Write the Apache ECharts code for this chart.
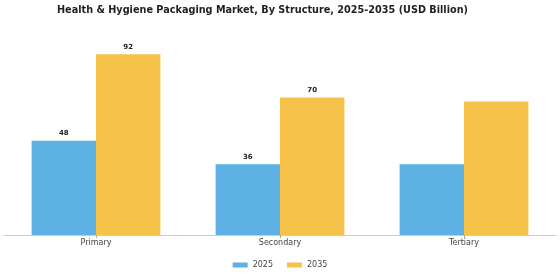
<!DOCTYPE html>
<html>
<head>
<meta charset="utf-8">
<script src="https://cdn.jsdelivr.net/npm/echarts@6/dist/echarts.min.js"></script>
<style>
  html, body { margin: 0; padding: 0; background: #fff; }
  #main { width: 560px; height: 280px; }
</style>
</head>
<body>
<div id="main"></div>
<script>
var categories = ['Primary', 'Secondary', 'Tertiary'];
var values2025 = [48, 36, 36];
var values2035 = [92, 70, 68];
// only these get value labels in the source picture
var labels2025 = ['48', '36', ''];
var labels2035 = ['92', '70', ''];

var chart = echarts.init(document.getElementById('main'));

var option = {
    backgroundColor: '#fff',
    textStyle: { fontFamily: 'DejaVu Sans' },
    title: {
        text: 'Health & Hygiene Packaging Market, By Structure, 2025-2035 (USD Billion)',
        left: 57,
        top: 5,
        padding: 0,
        textStyle: { fontSize: 9.7, fontWeight: 'bold', color: '#222', fontFamily: 'DejaVu Sans' }
    },
    legend: {
        bottom: 6,
        left: 'center',
        itemWidth: 15,
        itemHeight: 5,
        itemGap: 14,
        icon: 'rect',
        textStyle: { fontSize: 8, color: '#444' },
        data: ['2025', '2035']
    },
    grid: { left: 4, right: 4, top: 38.6, bottom: 45 },
    xAxis: {
        type: 'category',
        data: categories,
        axisLine: { lineStyle: { color: '#ccc' } },
        axisTick: { show: true, alignWithLabel: true, length: 3, lineStyle: { color: '#aaa' } },
        axisLabel: { fontSize: 8, color: '#444', margin: 4 }
    },
    yAxis: {
        type: 'value',
        min: 0,
        max: 100,
        show: false,
        splitLine: { show: false }
    },
    series: [{
        name: '2025',
        type: 'bar',
        data: values2025,
        barGap: '0%',
        barCategoryGap: '30%',
        itemStyle: { color: '#5DB1E4' },
        label: {
            show: true,
            position: 'top',
            distance: 4,
            fontSize: 7,
            fontWeight: 'bold',
            color: '#222',
            formatter: function (p) { return labels2025[p.dataIndex]; }
        }
    }, {
        name: '2035',
        type: 'bar',
        data: values2035,
        barGap: '0%',
        barCategoryGap: '30%',
        itemStyle: { color: '#F6C24A' },
        label: {
            show: true,
            position: 'top',
            distance: 4,
            fontSize: 7,
            fontWeight: 'bold',
            color: '#222',
            formatter: function (p) { return labels2035[p.dataIndex]; }
        }
    }]
};

chart.setOption(option);
</script>
</body>
</html>
